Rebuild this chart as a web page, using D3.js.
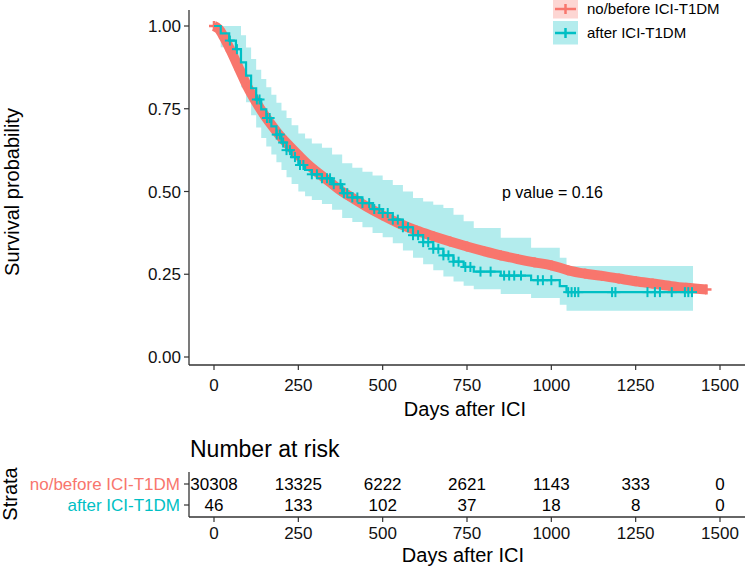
<!DOCTYPE html>
<html><head><meta charset="utf-8">
<script src="https://cdn.jsdelivr.net/npm/d3@7"></script>
<style>body{margin:0;background:#fff}svg{display:block}text{font-family:"Liberation Sans",Arial,sans-serif}</style>
</head><body><svg id="c" width="748" height="568"></svg>
<script>
// ---- data ----
const seriesNames = ["no/before ICI-T1DM", "after ICI-T1DM"];
const seriesColors = ["#F8766D", "#00BFC4"];
const bandColors = ["#FDD6D3", "#B3ECED"];
const xTicks = [0, 250, 500, 750, 1000, 1250, 1500];
const yTicks = [0, 0.25, 0.5, 0.75, 1];

const redTime = [0, 15, 30, 50, 75, 100, 125, 150, 175, 200, 225, 250, 275, 300, 325, 350, 375, 400, 450, 500, 550, 600, 650, 700, 750, 800, 850, 900, 950, 1000, 1050, 1100, 1150, 1200, 1250, 1300, 1350, 1400, 1460];
const redSurv = [1.0, 0.99, 0.965, 0.925, 0.87, 0.815, 0.77, 0.73, 0.695, 0.663, 0.636, 0.61, 0.585, 0.563, 0.543, 0.523, 0.503, 0.487, 0.456, 0.428, 0.403, 0.382, 0.365, 0.349, 0.334, 0.32, 0.307, 0.296, 0.286, 0.277, 0.262, 0.252, 0.245, 0.237, 0.229, 0.222, 0.215, 0.209, 0.204];

const tealTime = [0, 20, 45, 65, 80, 95, 110, 125, 140, 155, 170, 185, 200, 215, 230, 250, 270, 290, 320, 350, 380, 410, 440, 470, 500, 530, 560, 590, 620, 650, 680, 710, 740, 770, 850, 940, 1025, 1045];
const tealSurv = [1.0, 0.978, 0.956, 0.93, 0.89, 0.85, 0.812, 0.778, 0.748, 0.722, 0.697, 0.672, 0.648, 0.625, 0.604, 0.58, 0.565, 0.552, 0.54, 0.522, 0.495, 0.482, 0.465, 0.447, 0.435, 0.415, 0.392, 0.368, 0.347, 0.327, 0.307, 0.288, 0.272, 0.258, 0.246, 0.232, 0.214, 0.196];
const tealLower = [1.0, 0.936, 0.9, 0.862, 0.815, 0.77, 0.73, 0.693, 0.662, 0.636, 0.612, 0.588, 0.565, 0.543, 0.523, 0.5, 0.486, 0.474, 0.462, 0.445, 0.42, 0.408, 0.392, 0.375, 0.362, 0.344, 0.322, 0.3, 0.28, 0.262, 0.243, 0.228, 0.215, 0.205, 0.19, 0.178, 0.158, 0.14];
const tealUpper = [1.0, 1.0, 1.0, 1.0, 0.972, 0.935, 0.9, 0.868, 0.84, 0.815, 0.792, 0.768, 0.745, 0.722, 0.7, 0.675, 0.66, 0.645, 0.632, 0.612, 0.585, 0.572, 0.56, 0.548, 0.535, 0.52, 0.5, 0.48, 0.47, 0.46, 0.45, 0.43, 0.41, 0.39, 0.36, 0.33, 0.3, 0.275];
const tealEnd = 1420;
const tealCensor = [47, 68, 127, 135, 157, 165, 186, 195, 205, 215, 225, 240, 255, 265, 290, 305, 320, 335, 344, 355, 375, 385, 395, 410, 425, 440, 460, 475, 490, 500, 515, 530, 545, 560, 575, 590, 605, 620, 635, 650, 665, 680, 695, 710, 725, 745, 760, 790, 820, 860, 875, 890, 910, 960, 975, 1000, 1050, 1060, 1070, 1080, 1180, 1190, 1285, 1307, 1322, 1357, 1396, 1406, 1417];

const riskRed = [30308, 13325, 6222, 2621, 1143, 333, 0];
const riskTeal = [46, 133, 102, 37, 18, 8, 0];
const pLabel = "p value = 0.16";

// ---- drawing ----
const svg = d3.select("#c");
const axisCol = "#333";
const x = d3.scaleLinear().domain([0, 1500]).range([214, 720]);
const y = d3.scaleLinear().domain([0, 1]).range([357, 26]);
const leftX = 189, rightX = 745, axisY = 365;

// teal CI band (step)
const bandData = tealTime.map((t, i) => ({t, lo: tealLower[i], hi: tealUpper[i]}));
bandData.push({t: tealEnd, lo: tealLower[tealLower.length - 1], hi: tealUpper[tealUpper.length - 1]});
svg.append("path").datum(bandData)
  .attr("d", d3.area().curve(d3.curveStepAfter).x(d => x(d.t)).y0(d => y(d.lo)).y1(d => y(d.hi)))
  .attr("fill", bandColors[1]);

// red curve: thick due to dense censor marks
const redData = redTime.map((t, i) => ({t, s: redSurv[i]}));
svg.append("path").datum(redData)
  .attr("d", d3.line().curve(d3.curveMonotoneX).x(d => x(d.t)).y(d => y(d.s)))
  .attr("fill", "none").attr("stroke", seriesColors[0]).attr("stroke-width", 10);
function plus(g, cx, cy, col, sz, sw) {
  g.append("line").attr("x1", cx - sz).attr("x2", cx + sz).attr("y1", cy).attr("y2", cy).attr("stroke", col).attr("stroke-width", sw);
  g.append("line").attr("x1", cx).attr("x2", cx).attr("y1", cy - sz).attr("y2", cy + sz).attr("stroke", col).attr("stroke-width", sw);
}
const gRed = svg.append("g");
redData.forEach(d => plus(gRed, x(d.t), y(d.s), seriesColors[0], 5, 2.5));

// teal step curve
const tealData = tealTime.map((t, i) => ({t, s: tealSurv[i]}));
tealData.push({t: tealEnd, s: tealSurv[tealSurv.length - 1]});
svg.append("path").datum(tealData)
  .attr("d", d3.line().curve(d3.curveStepAfter).x(d => x(d.t)).y(d => y(d.s)))
  .attr("fill", "none").attr("stroke", seriesColors[1]).attr("stroke-width", 2.2);
function tealAt(t) { let s = 1; tealTime.forEach((tt, i) => { if (tt <= t) s = tealSurv[i]; }); return s; }
const gTeal = svg.append("g");
tealCensor.forEach(t => plus(gTeal, x(t), y(tealAt(t)), seriesColors[1], 5, 2));

// axes main
const gA = svg.append("g");
gA.append("line").attr("x1", leftX).attr("x2", leftX).attr("y1", 10).attr("y2", axisY).attr("stroke", axisCol).attr("stroke-width", 1.3);
gA.append("line").attr("x1", leftX).attr("x2", rightX).attr("y1", axisY).attr("y2", axisY).attr("stroke", axisCol).attr("stroke-width", 1.3);
yTicks.forEach(v => {
  gA.append("line").attr("x1", leftX - 5).attr("x2", leftX).attr("y1", y(v)).attr("y2", y(v)).attr("stroke", axisCol).attr("stroke-width", 1.2);
  gA.append("text").attr("x", 181).attr("y", y(v)).attr("dy", "0.36em").attr("text-anchor", "end")
    .attr("font-size", 17).attr("fill", "#111").text(d3.format(".2f")(v));
});
xTicks.forEach(v => {
  gA.append("line").attr("x1", x(v)).attr("x2", x(v)).attr("y1", axisY).attr("y2", axisY + 5).attr("stroke", axisCol).attr("stroke-width", 1.2);
  gA.append("text").attr("x", x(v)).attr("y", 391).attr("text-anchor", "middle")
    .attr("font-size", 17).attr("fill", "#111").text(v);
});
svg.append("text").attr("x", 465).attr("y", 416).attr("text-anchor", "middle").attr("font-size", 20).text("Days after ICI");
svg.append("text").attr("transform", "translate(18.5,192) rotate(-90)").attr("text-anchor", "middle").attr("font-size", 20).text("Survival probability");
svg.append("text").attr("x", 502).attr("y", 198).attr("font-size", 16).text(pLabel);

// legend
const legY = [9, 33];
seriesNames.forEach((n, i) => {
  const cy = legY[i];
  svg.append("rect").attr("x", 553).attr("y", i === 0 ? 0 : cy - 12).attr("width", 25).attr("height", i === 0 ? 18.5 : 23.5).attr("fill", bandColors[i]);
  svg.append("line").attr("x1", 555).attr("x2", 576).attr("y1", cy).attr("y2", cy).attr("stroke", seriesColors[i]).attr("stroke-width", 2.5);
  svg.append("line").attr("x1", 565.5).attr("x2", 565.5).attr("y1", cy - 5).attr("y2", cy + 5).attr("stroke", seriesColors[i]).attr("stroke-width", 2.5);
  svg.append("text").attr("x", 587).attr("y", cy).attr("dy", "0.36em").attr("font-size", 15).text(n);
});

// risk table
svg.append("text").attr("x", 190).attr("y", 457).attr("font-size", 23).text("Number at risk");
const rowY = [484, 505];
const tabAxisY = 517;
svg.append("line").attr("x1", leftX).attr("x2", leftX).attr("y1", 472).attr("y2", tabAxisY).attr("stroke", axisCol).attr("stroke-width", 1.3);
svg.append("line").attr("x1", leftX).attr("x2", rightX).attr("y1", tabAxisY).attr("y2", tabAxisY).attr("stroke", axisCol).attr("stroke-width", 1.3);
[riskRed, riskTeal].forEach((row, i) => {
  svg.append("line").attr("x1", leftX - 5).attr("x2", leftX).attr("y1", rowY[i]).attr("y2", rowY[i]).attr("stroke", axisCol).attr("stroke-width", 1.2);
  svg.append("text").attr("x", 180).attr("y", rowY[i]).attr("dy", "0.36em").attr("text-anchor", "end").attr("font-size", 17).attr("fill", seriesColors[i]).text(seriesNames[i]);
  row.forEach((v, j) => {
    svg.append("text").attr("x", x(xTicks[j])).attr("y", rowY[i]).attr("dy", "0.36em").attr("text-anchor", "middle").attr("font-size", 17).text(v);
  });
});
xTicks.forEach(v => {
  svg.append("line").attr("x1", x(v)).attr("x2", x(v)).attr("y1", tabAxisY).attr("y2", tabAxisY + 5).attr("stroke", axisCol).attr("stroke-width", 1.2);
  svg.append("text").attr("x", x(v)).attr("y", 539).attr("text-anchor", "middle").attr("font-size", 17).attr("fill", "#111").text(v);
});
svg.append("text").attr("x", 463).attr("y", 562).attr("text-anchor", "middle").attr("font-size", 20).text("Days after ICI");
svg.append("text").attr("transform", "translate(17,494) rotate(-90)").attr("text-anchor", "middle").attr("font-size", 20).text("Strata");
</script></body></html>
